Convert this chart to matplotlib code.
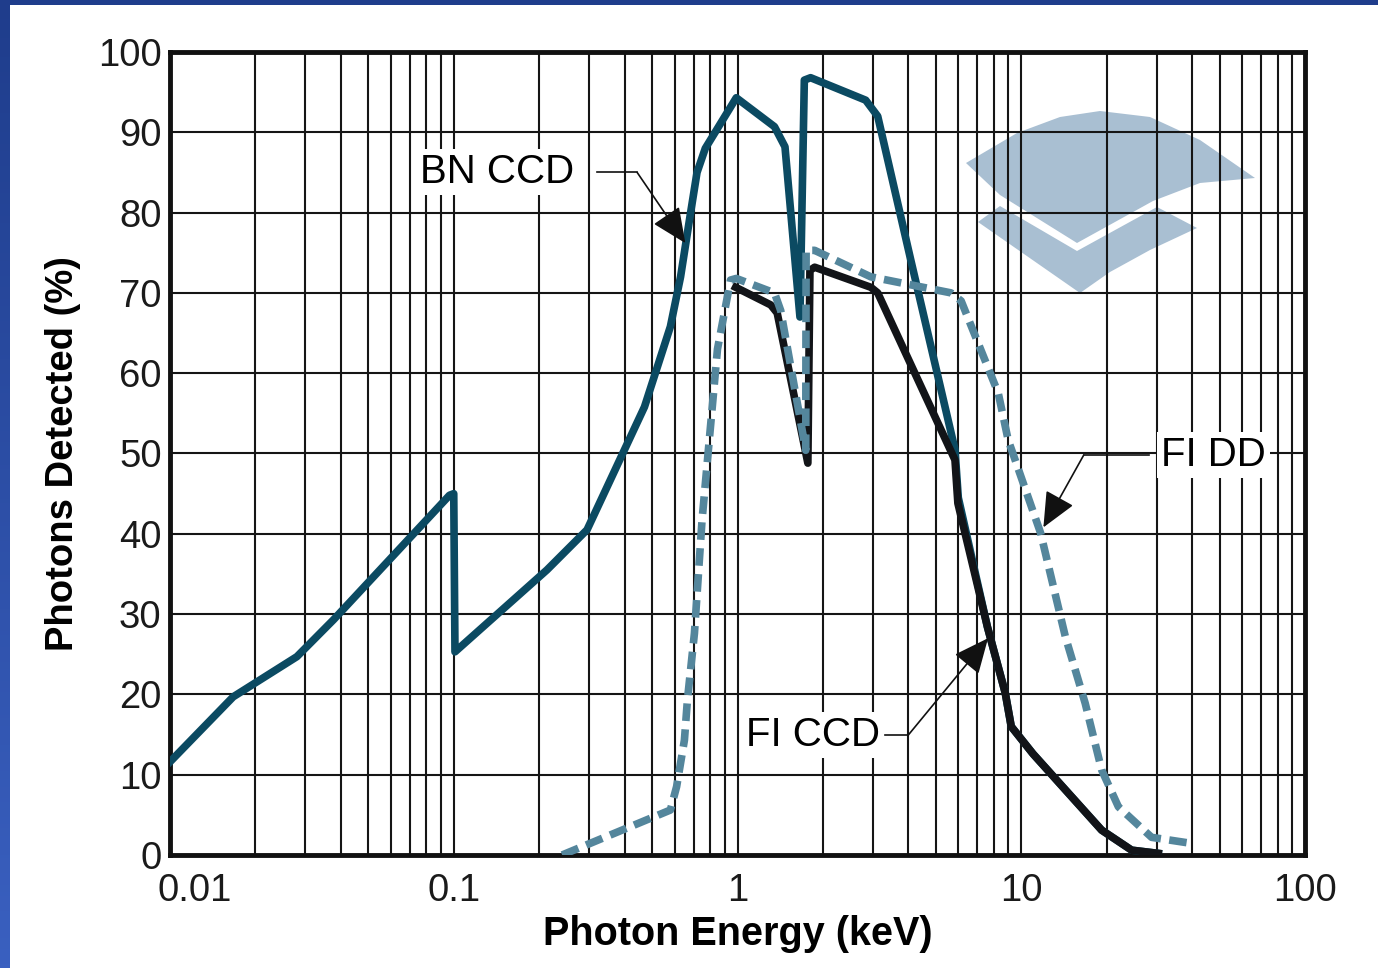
import matplotlib.pyplot as plt
import numpy as np
import matplotlib.transforms as mtrans
from matplotlib.patches import Polygon
from matplotlib.colors import LinearSegmentedColormap

plt.rcParams['font.family'] = ['Liberation Sans', 'DejaVu Sans']

# BN CCD (back-illuminated)
bn_x = [0.01, 0.0167, 0.028, 0.0377, 0.0966, 0.1, 0.101, 0.213, 0.295, 0.47,
        0.58, 0.63, 0.68, 0.72, 0.77, 0.99, 1.35, 1.47, 1.66, 1.72, 1.81, 2.83,
        3.12, 4.08, 5.84, 6.0, 7.6, 8.78, 9.22, 11.0, 19.2, 24.5, 30.4]
bn_y = [11.6, 19.7, 24.7, 29.3, 44.8, 45.0, 25.3, 35.5, 40.5, 55.8,
        65.8, 72.0, 79.5, 85.0, 88.0, 94.3, 90.7, 88.2, 67.0, 96.5, 96.8, 94.0,
        92.0, 74.1, 50.5, 44.5, 28.4, 20.2, 16.0, 12.6, 3.1, 0.6, 0.2]

# FI CCD (front-illuminated)
fi_x = [0.985, 1.31, 1.38, 1.77, 1.80, 1.87, 2.95, 3.12, 5.84, 5.98, 7.6,
        8.78, 9.22, 11.0, 19.2, 24.5, 30.4]
fi_y = [70.7, 68.5, 67.5, 48.8, 72.8, 73.2, 70.7, 70.0, 49.2, 43.8, 28.4,
        20.2, 16.0, 12.6, 3.1, 0.6, 0.2]

# FI DD (deep depletion)
dd_x = [0.241, 0.58, 0.61, 0.65, 0.666, 0.705, 0.75, 0.85, 0.945, 0.99, 1.35,
        1.42, 1.74, 1.745, 1.87, 2.95, 5.66, 6.14, 8.3, 8.99, 11.7, 14.3, 16.8,
        19.2, 22.0, 28.8, 38.9]
dd_y = [0.0, 5.6, 8.5, 14.3, 19.3, 27.6, 41.7, 63.0, 71.6, 71.8, 70.0,
        67.8, 50.4, 75.3, 75.3, 72.0, 70.0, 69.0, 57.5, 51.7, 40.1, 27.2, 18.9,
        10.6, 6.0, 2.2, 1.5]

x_ticks = [0.01, 0.1, 1, 10, 100]
x_labels = ['0.01', '0.1', '1', '10', '100']
y_ticks = list(range(0, 101, 10))

W, H = 1378, 968
fig = plt.figure(figsize=(W / 100, H / 100), dpi=100)
fig.patch.set_facecolor('white')

# blue frame on the left and top
bar = fig.add_axes([0, 0, 10 / W, 1])
grad = np.linspace(0, 1, 256).reshape(-1, 1)
cm = LinearSegmentedColormap.from_list('frame', ['#3a60c0', '#1f3d8c'])
bar.imshow(grad, aspect='auto', cmap=cm, origin='lower')
bar.axis('off')
fig.add_artist(plt.Rectangle((0, 1 - 5 / H), 1, 5 / H, transform=fig.transFigure,
                             color='#1f3d8c', lw=0))

ax = fig.add_axes([170 / W, 1 - 855 / H, 1135 / W, 803 / H])
ax.set_xscale('log')
ax.set_xlim(0.01, 100)
ax.set_ylim(0, 100)
ax.set_axisbelow(True)

# watermark logo (figure pixel coords)
def px(pts):
    return [(a / W, 1 - b / H) for a, b in pts]

logo_c = '#a9bfd2'
upper = [(966, 163), (1017, 133), (1060, 117), (1100, 111), (1150, 117),
         (1200, 140), (1255, 178), (1200, 183), (1153, 201), (1077, 243),
         (1000, 195)]
lower = [(978, 222), (1000, 206), (1077, 251), (1157, 207), (1197, 228),
         (1150, 250), (1110, 272), (1080, 293)]
for shp in (upper, lower):
    ax.add_patch(Polygon(px(shp), closed=True, transform=fig.transFigure,
                         facecolor=logo_c, edgecolor='none', zorder=0.2))

ax.grid(True, which='both', axis='x', color='#151515', lw=1.5)
ax.grid(True, which='major', axis='y', color='#151515', lw=1.5)
ax.set_yticks(y_ticks)
ax.set_xticks(x_ticks)
ax.set_xticklabels(x_labels)
ax.tick_params(which='both', length=0, labelsize=27.5, colors='#1a1a1a')
ax.tick_params(axis='x', pad=13)
ax.tick_params(axis='y', pad=6)
lbl = ax.get_xticklabels()[0]
lbl.set_transform(lbl.get_transform() + mtrans.ScaledTranslation(25 / 100, 0, fig.dpi_scale_trans))

for s in ax.spines.values():
    s.set_linewidth(3.5)
    s.set_color('#111111')

ax.plot(bn_x, bn_y, color='#0b4a62', lw=5.5, solid_joinstyle='round', zorder=3)
ax.plot(fi_x, fi_y, color='#121418', lw=5.5, solid_joinstyle='round', zorder=4)
ax.plot(dd_x, dd_y, color='#54869c', lw=5.5, linestyle=(0, (2.3, 1.1)),
        dash_capstyle='butt', zorder=5)

ax.set_xlabel('Photon Energy (keV)', fontsize=28.5, fontweight='bold', labelpad=4)
ax.set_ylabel('Photons Detected (%)', fontsize=27.5, fontweight='bold', labelpad=12)

box = dict(facecolor='white', edgecolor='none', pad=3)
ax.text(0.142, 85, 'BN CCD', fontsize=29, ha='center', va='center', bbox=box, zorder=6)
ax.text(47.7, 49.8, 'FI DD', fontsize=29, ha='center', va='center', bbox=box, zorder=6)
ax.text(1.84, 14.9, 'FI CCD', fontsize=29, ha='center', va='center', bbox=box, zorder=6)

arrow = dict(arrowstyle='-|>,head_length=1.0,head_width=0.45', lw=1.2, color='#111111',
             mutation_scale=22, shrinkA=0, shrinkB=0)
# leaders: text -> elbow -> tip
for (x0, x1, y0), (tx, ty) in [((0.32, 0.443, 85.0), (0.655, 76.2)),
                               ((28.1, 16.6, 49.8), (11.97, 40.8)),
                               ((3.3, 3.99, 14.9), (7.64, 27.0))]:
    ax.plot([x0, x1], [y0, y0], color='#111111', lw=1.2, zorder=6)
    ax.annotate('', xy=(tx, ty), xytext=(x1, y0), arrowprops=arrow, zorder=7)

fig.savefig('out.png', dpi=100)
